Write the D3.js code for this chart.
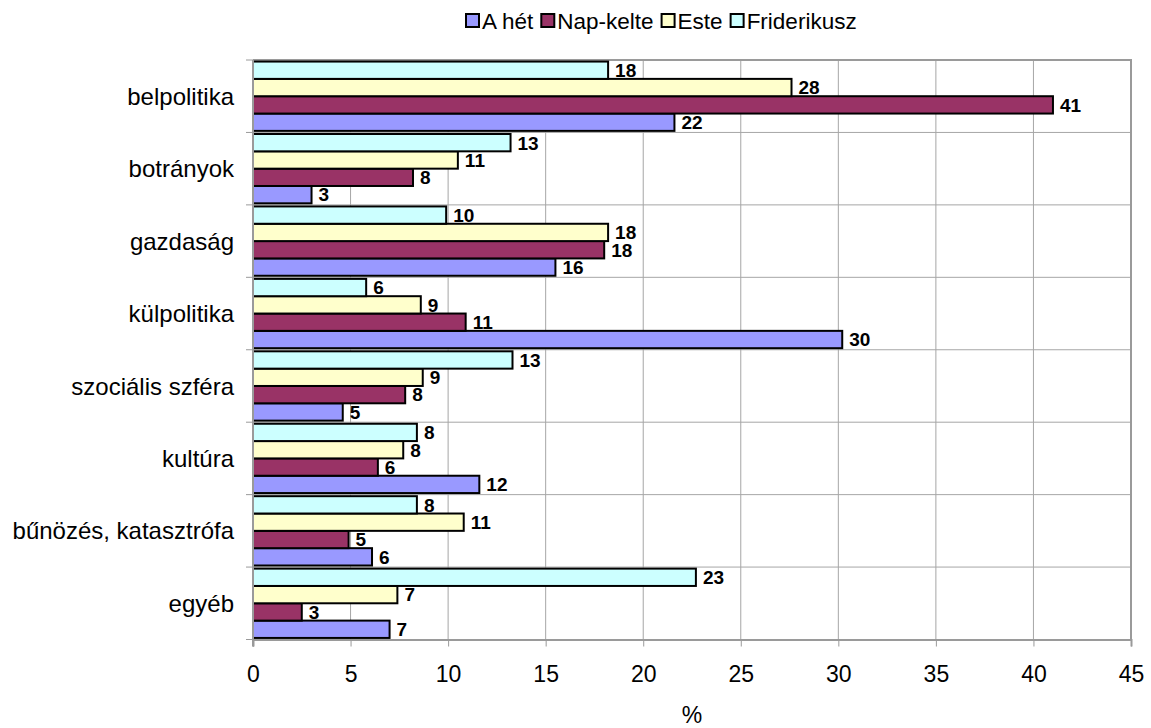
<!DOCTYPE html>
<html>
<head>
<meta charset="utf-8">
<script src="https://cdn.jsdelivr.net/npm/d3@7"></script>
<style>
  html, body { margin: 0; padding: 0; background: #fff; }
  svg { display: block; font-family: "Liberation Sans", Arial, Helvetica, sans-serif; }
</style>
</head>
<body>
<svg id="chart" width="1151" height="728"></svg>
<script>
// ---- data ----
const categories = ["belpolitika", "botrányok", "gazdaság", "külpolitika", "szociális szféra", "kultúra", "bűnözés, katasztrófa", "egyéb"];
const seriesNames = ["A hét", "Nap-kelte", "Este", "Friderikusz"];
const aHet       = [21.6, 3.0, 15.5, 30.2, 4.6, 11.6, 6.1, 7.0];
const napKelte   = [41.0, 8.2, 18.0, 10.9, 7.8, 6.4, 4.9, 2.5];
const este       = [27.6, 10.5, 18.2, 8.6, 8.7, 7.7, 10.8, 7.4];
const friderikusz= [18.2, 13.2, 9.9, 5.8, 13.3, 8.4, 8.4, 22.7];
const colors = ["#9999FF", "#993366", "#FFFFCC", "#CCFFFF"];
const xTicks = [0, 5, 10, 15, 20, 25, 30, 35, 40, 45];
const xTitle = "%";

const seriesValues = [aHet, napKelte, este, friderikusz];

const svg = d3.select("#chart");
const plot = { left: 253, right: 1131, top: 60, bottom: 639.5 };

const x = d3.scaleLinear().domain([0, 45]).range([plot.left, plot.right]);
const y = d3.scaleBand().domain(categories).range([plot.top, plot.bottom]).padding(0);
// within a category, Friderikusz is on top and A hét at the bottom
const ySub = d3.scaleBand().domain([3, 2, 1, 0]).range([0, y.bandwidth()]).paddingInner(0).paddingOuter(0.09);

const grid = "#a6a6a6";

// vertical gridlines
svg.append("g").selectAll("line").data(xTicks.slice(1)).join("line")
  .attr("x1", d => x(d)).attr("x2", d => x(d))
  .attr("y1", plot.top).attr("y2", plot.bottom)
  .attr("stroke", grid).attr("stroke-width", 1);

// horizontal gridlines at category boundaries
svg.append("g").selectAll("line").data(categories.slice(1)).join("line")
  .attr("x1", plot.left).attr("x2", plot.right)
  .attr("y1", d => y(d)).attr("y2", d => y(d))
  .attr("stroke", grid).attr("stroke-width", 1);

// plot border (top, right)
svg.append("path")
  .attr("d", `M${plot.left},${plot.top}H${plot.right}V${plot.bottom}`)
  .attr("fill", "none").attr("stroke", "#9a9a9a").attr("stroke-width", 2);

// bars
const rows = [];
seriesValues.forEach((vals, si) => vals.forEach((v, ci) => rows.push({ si, ci, v })));

svg.append("g").selectAll("rect").data(rows).join("rect")
  .attr("x", x(0))
  .attr("y", d => y(categories[d.ci]) + ySub(d.si))
  .attr("width", d => x(d.v) - x(0))
  .attr("height", ySub.bandwidth())
  .attr("fill", d => colors[d.si])
  .attr("stroke", "#000").attr("stroke-width", 2);

// value labels
svg.append("g").selectAll("text").data(rows).join("text")
  .attr("x", d => x(d.v) + 7)
  .attr("y", d => y(categories[d.ci]) + ySub(d.si) + ySub.bandwidth() / 2)
  .attr("dy", "0.36em")
  .attr("font-size", 19).attr("font-weight", "bold").attr("fill", "#000")
  .text(d => Math.round(d.v));

// axes
const xAxis = d3.axisBottom(x).tickValues(xTicks).tickSize(7).tickPadding(19).tickFormat(d3.format("d"));
const gx = svg.append("g").attr("transform", `translate(0,${plot.bottom})`).call(xAxis);
gx.select(".domain").attr("stroke", "#9a9a9a").attr("stroke-width", 2);
gx.selectAll(".tick line").attr("stroke", "#9a9a9a");
gx.selectAll(".tick text").attr("font-size", 23).attr("font-family", "Liberation Sans, Arial, sans-serif").attr("fill", "#000");

// y axis: line, ticks at boundaries, labels at band centers
svg.append("line").attr("x1", plot.left).attr("x2", plot.left)
  .attr("y1", plot.top).attr("y2", plot.bottom + 7)
  .attr("stroke", "#9a9a9a").attr("stroke-width", 2);
const bounds = categories.map(c => y(c)).concat([plot.bottom]);
svg.append("g").selectAll("line").data(bounds).join("line")
  .attr("x1", plot.left - 7).attr("x2", plot.left)
  .attr("y1", d => d).attr("y2", d => d)
  .attr("stroke", "#9a9a9a").attr("stroke-width", 1);
svg.append("g").selectAll("text").data(categories).join("text")
  .attr("x", plot.left - 19)
  .attr("y", d => y(d) + y.bandwidth() / 2)
  .attr("dy", "0.36em")
  .attr("text-anchor", "end")
  .attr("font-size", 24).attr("fill", "#000")
  .text(d => d);

// x title
svg.append("text").attr("x", (plot.left + plot.right) / 2).attr("y", 715)
  .attr("dy", "0.36em").attr("text-anchor", "middle")
  .attr("font-size", 23).text(xTitle);

// legend
const legend = svg.append("g");
let lx = 466;
seriesNames.forEach((name, i) => {
  legend.append("rect").attr("x", lx).attr("y", 14).attr("width", 13).attr("height", 13)
    .attr("fill", colors[i]).attr("stroke", "#000").attr("stroke-width", 2);
  const t = legend.append("text").attr("x", lx + 16).attr("y", 21).attr("dy", "0.36em")
    .attr("font-size", 22.5).text(name);
  lx += 16 + t.node().getComputedTextLength() + 8;
});
</script>
</body>
</html>
